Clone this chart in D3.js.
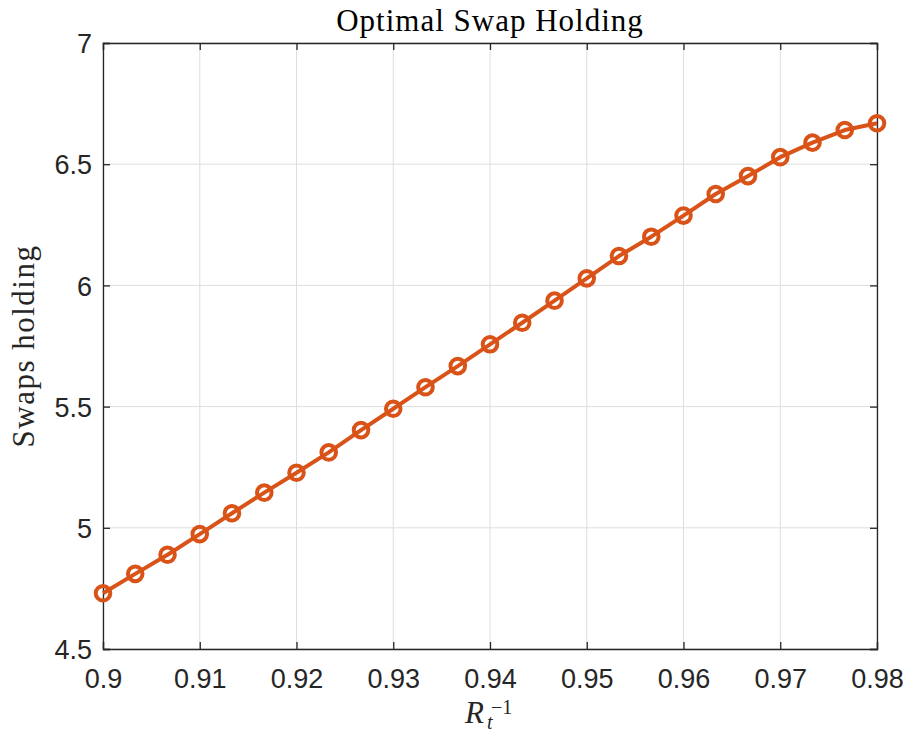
<!DOCTYPE html>
<html>
<head>
<meta charset="utf-8">
<script src="https://cdn.jsdelivr.net/npm/d3@7"></script>
<style>
  body { margin: 0; background: #fff; }
  svg { display: block; }
</style>
</head>
<body>
<div id="root"></div>
<script>
const width = 908;
const height = 732;
const margin = { top: 43, right: 31, bottom: 83, left: 103 };
const plotW = width - margin.left - margin.right;
const plotH = height - margin.top - margin.bottom;

// data
const rInv = [0.9, 0.90333, 0.90667, 0.91, 0.91333, 0.91667, 0.92, 0.92333,
  0.92667, 0.93, 0.93333, 0.93667, 0.94, 0.94333, 0.94667, 0.95, 0.95333,
  0.95667, 0.96, 0.96333, 0.96667, 0.97, 0.97333, 0.97667, 0.98];
const holding = [4.730, 4.810, 4.889, 4.974, 5.060, 5.145, 5.227, 5.311,
  5.403, 5.491, 5.580, 5.667, 5.757, 5.846, 5.937, 6.029, 6.121,
  6.201, 6.288, 6.377, 6.451, 6.529, 6.589, 6.641, 6.669];
const xTicks = [0.9, 0.91, 0.92, 0.93, 0.94, 0.95, 0.96, 0.97, 0.98];
const yTicks = [4.5, 5, 5.5, 6, 6.5, 7];

const axisColor = "#262626";
const lineColor = "#D95319";
const serif = "'Liberation Serif', 'DejaVu Serif', serif";

let svg = d3
  .select("#root")
  .append("svg")
  .attr("width", width)
  .attr("height", height);

let g = svg
  .append("g")
  .attr("transform", "translate(" + margin.left + "," + margin.top + ")");

let xScale = d3.scaleLinear().domain([0.9, 0.98]).range([0, plotW]);
let yScale = d3.scaleLinear().domain([4.5, 7]).range([plotH, 0]);

// grid
g.append("g")
  .selectAll("line")
  .data(xTicks)
  .enter()
  .append("line")
  .attr("x1", (d) => xScale(d))
  .attr("x2", (d) => xScale(d))
  .attr("y1", 0)
  .attr("y2", plotH)
  .style("stroke", "#dedede")
  .style("stroke-width", 1);

g.append("g")
  .selectAll("line")
  .data(yTicks)
  .enter()
  .append("line")
  .attr("x1", 0)
  .attr("x2", plotW)
  .attr("y1", (d) => yScale(d))
  .attr("y2", (d) => yScale(d))
  .style("stroke", "#dedede")
  .style("stroke-width", 1);

// axes, ticks pointing inward
let xAxis = d3.axisBottom(xScale).tickValues(xTicks).tickSize(-7).tickPadding(20)
  .tickFormat((d) => d3.format("")(+d.toFixed(2)));
let yAxis = d3.axisLeft(yScale).tickValues(yTicks).tickSize(-7).tickPadding(11)
  .tickFormat((d) => d3.format("")(d));

let xg = g.append("g").attr("transform", "translate(0," + plotH + ")").call(xAxis);
let yg = g.append("g").call(yAxis);

g.append("g").call(d3.axisTop(xScale).tickValues(xTicks).tickSize(-7).tickFormat(""));
g.append("g").attr("transform", "translate(" + plotW + ",0)")
  .call(d3.axisRight(yScale).tickValues(yTicks).tickSize(-7).tickFormat(""));

g.selectAll(".domain").style("stroke", axisColor).style("stroke-width", 1.3);
g.selectAll(".tick line").style("stroke", axisColor).style("stroke-width", 1.3);
g.selectAll(".tick text")
  .style("font-family", "'Liberation Sans', Arial, sans-serif")
  .style("font-size", "27px")
  .style("fill", axisColor);
yg.selectAll(".tick text").attr("dy", "0.36em");

// data line
let line = d3
  .line()
  .x((d, i) => xScale(rInv[i]))
  .y((d) => yScale(d));

g.append("path")
  .datum(holding)
  .attr("d", line)
  .style("fill", "none")
  .style("stroke", lineColor)
  .style("stroke-width", 4)
  .style("stroke-linejoin", "round");

g.append("g")
  .selectAll("circle")
  .data(holding)
  .enter()
  .append("circle")
  .attr("cx", (d, i) => xScale(rInv[i]))
  .attr("cy", (d) => yScale(d))
  .attr("r", 7.3)
  .style("fill", "none")
  .style("stroke", lineColor)
  .style("stroke-width", 4);

// title and labels
svg
  .append("text")
  .attr("x", margin.left + plotW / 2)
  .attr("y", 31)
  .attr("text-anchor", "middle")
  .style("font-family", serif)
  .style("font-size", "31px")
  .style("letter-spacing", "1px")
  .style("fill", "#000")
  .text("Optimal Swap Holding");

svg
  .append("text")
  .attr("transform", "rotate(-90)")
  .attr("x", -(margin.top + plotH / 2))
  .attr("y", 34)
  .attr("text-anchor", "middle")
  .style("font-family", serif)
  .style("font-size", "31px")
  .style("letter-spacing", "1.5px")
  .style("fill", axisColor)
  .text("Swaps holding");

let xl = svg
  .append("text")
  .attr("x", 465)
  .attr("y", 723)
  .style("font-family", serif)
  .style("font-size", "31px")
  .style("fill", axisColor);
xl.append("tspan").style("font-style", "italic").text("R");
xl.append("tspan").attr("x", 487).attr("y", 729)
  .style("font-style", "italic").style("font-size", "20px").text("t");
xl.append("tspan").attr("x", 491).attr("y", 714)
  .style("font-size", "20px").text("\u22121");
</script>
</body>
</html>
